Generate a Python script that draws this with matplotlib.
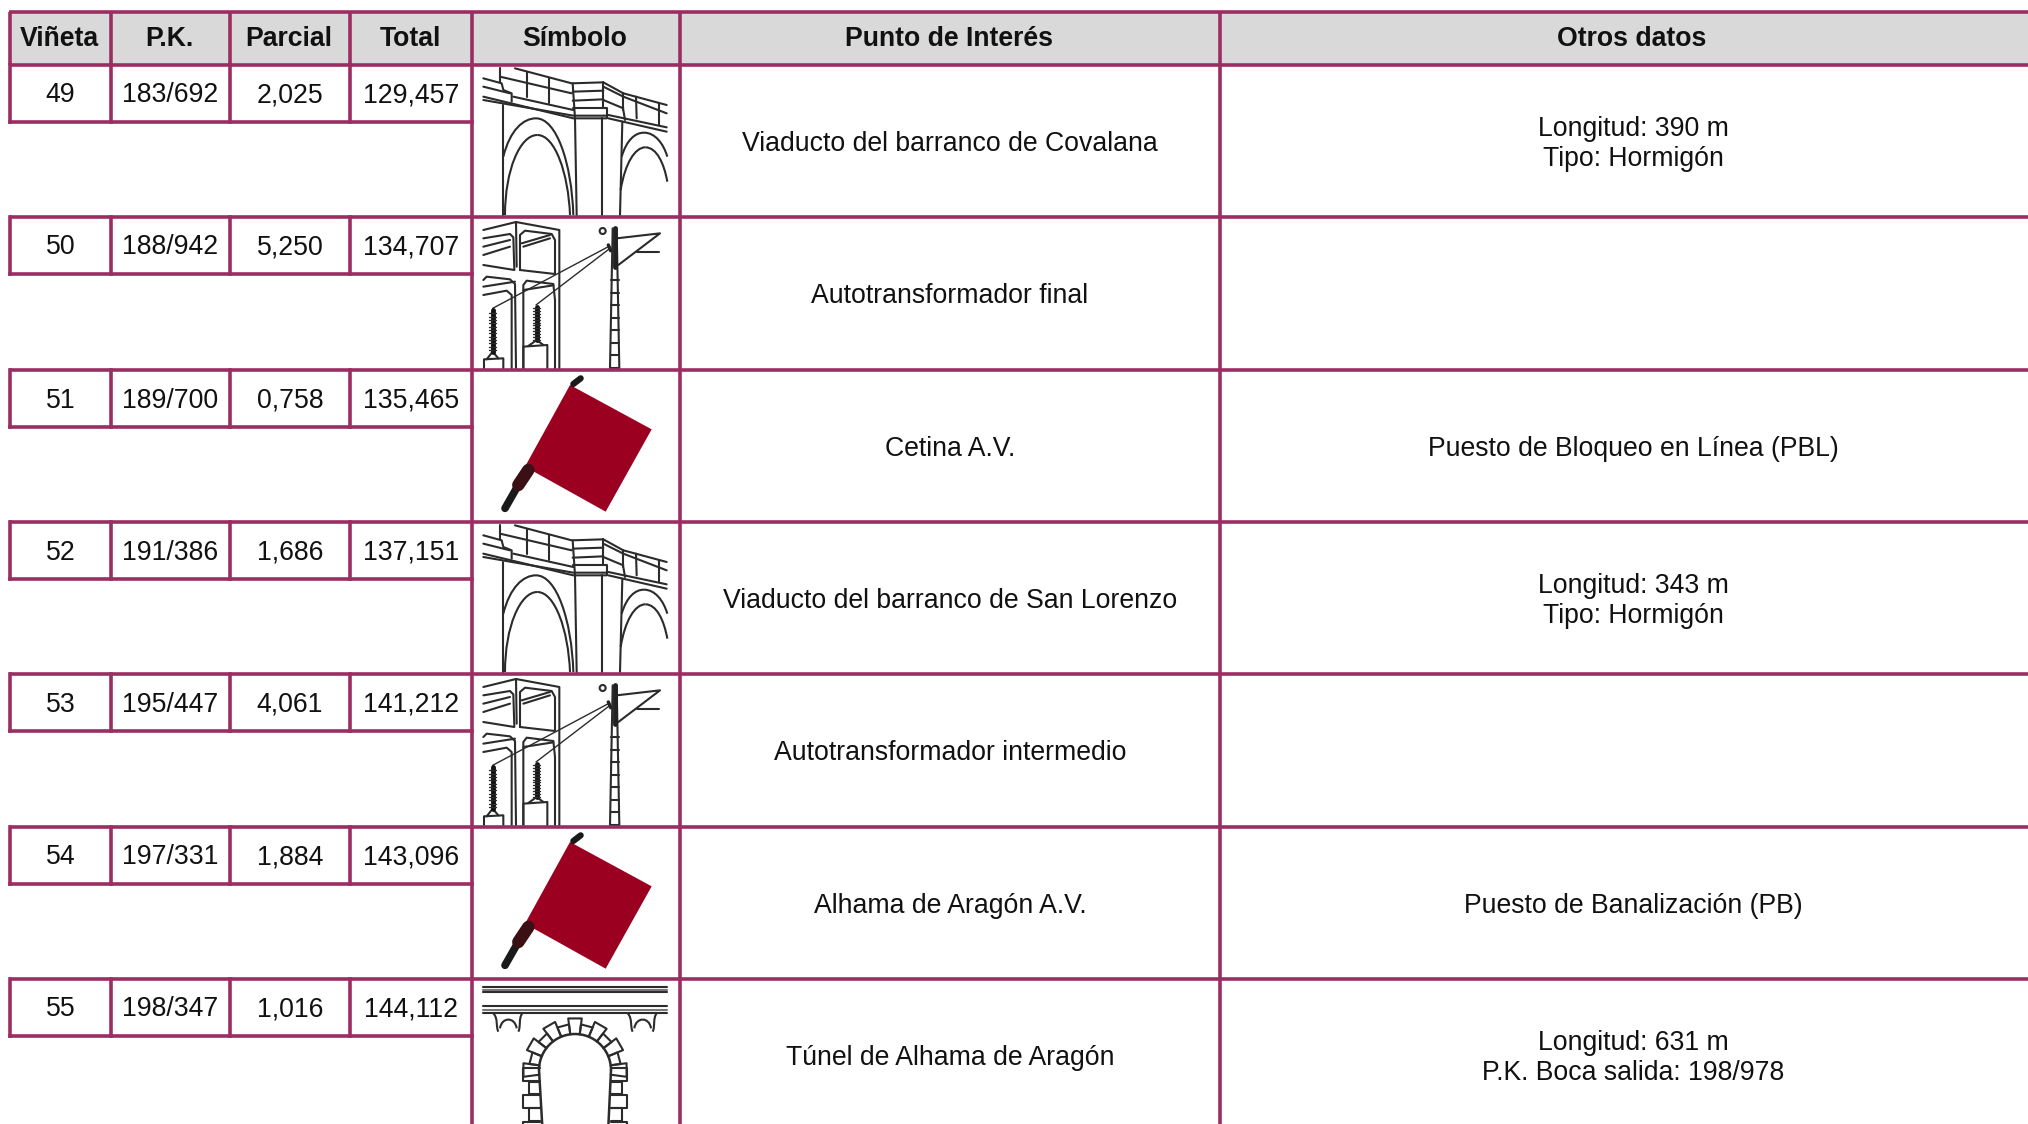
# Tabla de puntos de interes de la linea, dibujada en pixeles de la pagina
import numpy as np
import matplotlib
matplotlib.use('Agg')
import matplotlib.pyplot as plt
from matplotlib.path import Path
from matplotlib.patches import PathPatch, Polygon, Rectangle, Circle

plt.rcParams['font.family'] = ['Liberation Sans', 'DejaVu Sans']

headers = ['Viñeta', 'P.K.', 'Parcial', 'Total', 'Símbolo', 'Punto de Interés', 'Otros datos']
vineta = ['49', '50', '51', '52', '53', '54', '55']
pk = ['183/692', '188/942', '189/700', '191/386', '195/447', '197/331', '198/347']
parcial = ['2,025', '5,250', '0,758', '1,686', '4,061', '1,884', '1,016']
total = ['129,457', '134,707', '135,465', '137,151', '141,212', '143,096', '144,112']
simbolo = ['viaducto', 'auto', 'bandera', 'viaducto', 'auto', 'bandera', 'tunel']
punto = ['Viaducto del barranco de Covalana', 'Autotransformador final', 'Cetina A.V.',
         'Viaducto del barranco de San Lorenzo', 'Autotransformador intermedio',
         'Alhama de Aragón A.V.', 'Túnel de Alhama de Aragón']
otros = ['Longitud: 390 m\nTipo: Hormigón', '', 'Puesto de Bloqueo en Línea (PBL)',
         'Longitud: 343 m\nTipo: Hormigón', '', 'Puesto de Banalización (PB)',
         'Longitud: 631 m\nP.K. Boca salida: 198/978']

W, H = 2028, 1124
col_x = [10, 111, 230, 350, 472, 680, 1220, W + 18]
row_y = [65, 217, 370, 522, 674, 827, 979, H + 10]
head_top = 12
sub_h = 57
BORDER = '#9B2D62'
LW = 2.6
INK = '#2b2b2b'
FS = 19.2

fig = plt.figure(figsize=(W / 100, H / 100), dpi=100, facecolor='white')
ax = fig.add_axes([0, 0, 1, 1])
ax.set_xlim(0, W)
ax.set_ylim(H, 0)
ax.axis('off')


# los iconos se anotan en pixeles del recorte x3, con origen en (460, 50)
def stroke(pts, dy=0, lw=1.5, c=INK):
    pts = np.array(pts, dtype=float)
    ax.plot(460 + pts[:, 0] / 3, 50 + pts[:, 1] / 3 + dy, color=c, lw=lw,
            solid_capstyle='round', solid_joinstyle='round', zorder=2)


def curve(p0, p1, p2, p3, dy=0, lw=1.5):
    pts = np.array([p0, p1, p2, p3], dtype=float)
    pts = np.c_[460 + pts[:, 0] / 3, 50 + pts[:, 1] / 3 + dy]
    path = Path(pts, [Path.MOVETO, Path.CURVE4, Path.CURVE4, Path.CURVE4])
    ax.add_patch(PathPatch(path, fc='none', ec=INK, lw=lw, zorder=2))


def viaducto(top):
    dy = top - row_y[0]
    lines = [
        [(165, 55), (335, 100), (430, 97), (490, 130), (620, 165)],
        [(120, 80), (335, 130)],
        [(120, 55), (120, 95)],
        [(70, 85), (125, 100), (130, 120), (155, 130), (155, 155)],
        [(70, 110), (150, 130)],
        [(70, 140), (340, 205), (440, 205)],
        [(70, 150), (340, 197), (440, 197)],
        [(160, 140), (340, 180)],
        [(200, 65), (200, 140)], [(268, 85), (268, 160)],
        [(338, 100), (345, 205)],
        [(338, 125), (430, 122)], [(338, 152), (430, 148)], [(340, 175), (440, 175)],
        [(430, 97), (430, 175)], [(440, 178), (440, 205)],
        [(430, 110), (490, 140), (620, 190)],
        [(430, 150), (490, 175)], [(490, 180), (495, 210)],
        [(445, 195), (620, 232)], [(445, 205), (620, 245)],
        [(490, 130), (490, 180)], [(528, 140), (530, 205)], [(597, 160), (597, 225)],
        [(130, 165), (130, 495)], [(345, 205), (350, 495)],
        [(425, 205), (425, 495)], [(487, 215), (480, 495)],
    ]
    for ln in lines:
        stroke(ln, dy)
    curve((130, 320), (150, 240), (190, 205), (228, 205), dy)
    curve((228, 205), (290, 205), (335, 340), (340, 495), dy)
    curve((135, 495), (135, 360), (180, 255), (232, 255), dy)
    curve((232, 255), (285, 255), (325, 370), (330, 495), dy)
    curve((485, 320), (500, 270), (525, 248), (552, 248), dy)
    curve((552, 248), (585, 248), (610, 280), (622, 320), dy)
    curve((482, 420), (495, 340), (525, 292), (556, 292), dy)
    curve((556, 292), (590, 292), (612, 340), (622, 395), dy)


def auto(top):
    dy = top - row_y[1]
    lines = [
        [(70, 540), (168, 516), (298, 540), (298, 955)],
        [(70, 565), (150, 552), (160, 562), (163, 660), (70, 645)],
        [(70, 590), (150, 570)], [(70, 615), (150, 590)],
        [(168, 516), (170, 650)],
        [(180, 660), (180, 555), (195, 542), (275, 552), (285, 570), (285, 672), (180, 660)],
        [(185, 580), (270, 555)], [(190, 590), (270, 565)],
        [(70, 690), (80, 680), (150, 688), (165, 702), (168, 955)],
        [(70, 710), (165, 695)],
        [(70, 735), (140, 722), (155, 735), (155, 955)],
        [(190, 955), (190, 705), (200, 692), (280, 702), (285, 750), (285, 955)],
        [(190, 720), (280, 706)],
        [(72, 955), (72, 928), (130, 925), (130, 955)],
        [(190, 955), (190, 890), (262, 885), (262, 955)],
        [(80, 928), (98, 905), (115, 925)], [(205, 888), (230, 870), (250, 885)],
        [(450, 955), (458, 535)], [(478, 955), (470, 535)],
        [(470, 565), (600, 550), (475, 645)], [(530, 605), (597, 605)],
    ]
    for ln in lines:
        stroke(ln, dy)
    stroke([(98, 775), (445, 590)], dy, lw=1)
    stroke([(228, 765), (450, 595)], dy, lw=1)
    stroke([(98, 780), (98, 905)], dy, lw=3.5, c='#111111')
    stroke([(230, 770), (230, 870)], dy, lw=3.5, c='#111111')
    stroke([(465, 535), (465, 650)], dy, lw=3.5, c='#222222')
    stroke([(445, 585), (452, 602)], dy, lw=2.5, c='#222222')
    for r in range(8):
        yr = 690 + r * 37.5
        stroke([(452, yr), (476, yr)], dy)
    for r in range(12):
        stroke([(88, 790 + r * 10), (108, 790 + r * 10)], dy, lw=1)
        stroke([(220, 775 + r * 8.5), (240, 775 + r * 8.5)], dy, lw=1)
    ax.add_patch(Circle((460 + 428 / 3, 50 + 543 / 3 + dy), 3, fc='white', ec=INK, lw=1.5, zorder=2))


def bandera(top):
    # recorte con origen en (460, 360)
    dy2 = top - row_y[2] + 310
    tela = np.array([(330, 75), (575, 208), (437, 455), (195, 320)], dtype=float)
    ax.add_patch(Polygon(np.c_[460 + tela[:, 0] / 3, 50 + tela[:, 1] / 3 + dy2],
                         fc='#9B0020', ec='none', zorder=2))
    stroke([(135, 445), (175, 375)], dy2, lw=5.5, c='#1a1a1a')
    stroke([(175, 375), (205, 330)], dy2, lw=9, c='#3a1015')
    stroke([(340, 72), (362, 55)], dy2, lw=4.5, c='#1a1a1a')


def tunel(top):
    # recorte con origen en (460, 960)
    dy2 = top - row_y[6] + 910
    for y0 in (80, 97, 138, 158):
        stroke([(70, y0), (620, y0)], dy2, lw=1.5)
    for y0 in (90, 150):
        stroke([(70, y0), (620, y0)], dy2, lw=1.5, c='#777777')
    for x0 in (145, 548):
        curve((x0 - 45, 160), (x0 - 30, 175), (x0 - 38, 200), (x0 - 30, 215), dy2)
        curve((x0 + 42, 160), (x0 + 30, 175), (x0 + 38, 200), (x0 + 30, 215), dy2)
        curve((x0 - 25, 205), (x0 - 20, 170), (x0 + 20, 170), (x0 + 25, 205), dy2)
    cx, cy = 345, 330
    ang = np.radians(np.arange(0, 181, 180 / 12))
    for i, a in enumerate(ang):
        da = np.radians(7.5)
        r1 = 108
        r2 = 156 if i % 2 == 0 else 138
        px = [cx + r1 * np.cos(a - da), cx + r2 * np.cos(a - da),
              cx + r2 * np.cos(a + da), cx + r1 * np.cos(a + da)]
        py = [cy - r1 * np.sin(a - da), cy - r2 * np.sin(a - da),
              cy - r2 * np.sin(a + da), cy - r1 * np.sin(a + da)]
        stroke(list(zip(px, py)), dy2)
    th = np.radians(np.linspace(0, 180, 40))
    stroke(list(zip(cx + 108 * np.cos(th), cy - 108 * np.sin(th))), dy2, lw=1.8)
    stroke([(237, 330), (247, 500)], dy2, lw=1.8)
    stroke([(453, 330), (445, 500)], dy2, lw=1.8)
    for k in range(5):
        y0 = 345 + k * 40
        w = 50 if k % 2 == 0 else 34
        for sx, xb in ((-1, 240), (1, 452)):
            stroke([(xb, y0 - 20), (xb + sx * w, y0 - 20), (xb + sx * w, y0 + 18), (xb, y0 + 18)], dy2)


iconos = {'viaducto': viaducto, 'auto': auto, 'bandera': bandera, 'tunel': tunel}

# cabecera
ax.add_patch(Rectangle((col_x[0], head_top), W, row_y[0] - head_top, fc='#D9D9D9', ec='none', zorder=0))
for j, name in enumerate(headers):
    ax.text((col_x[j] + col_x[j + 1]) / 2 - 1, (head_top + row_y[0]) / 2 + 1, name,
            ha='center', va='center', fontsize=FS, fontweight='bold', color='#111111', zorder=3)

# filas
for i in range(len(vineta)):
    top, bot = row_y[i], row_y[i + 1]
    mid = (top + min(bot, top + 152)) / 2 + 3
    for j, vals in enumerate((vineta, pk, parcial, total)):
        ax.text((col_x[j] + col_x[j + 1]) / 2, top + sub_h / 2 + 2, vals[i], ha='center', va='center',
                fontsize=FS, color='#111111', zorder=3)
    ax.text((col_x[5] + col_x[6]) / 2, mid, punto[i], ha='center', va='center',
            fontsize=FS, color='#111111', zorder=3)
    ax.text((col_x[6] + col_x[7]) / 2, mid, otros[i], ha='center', va='center',
            fontsize=FS, color='#111111', zorder=3, linespacing=1.22)
    iconos[simbolo[i]](top)
    # rejilla de la sub-fila
    ax.plot([col_x[0], col_x[4]], [top + sub_h, top + sub_h], color=BORDER, lw=LW, zorder=4)
    for x in col_x[:4]:
        ax.plot([x, x], [top, top + sub_h], color=BORDER, lw=LW, zorder=4)

# lineas generales
for y in [head_top] + row_y[:-1]:
    ax.plot([col_x[0] - 1, W], [y, y], color=BORDER, lw=LW, zorder=4, solid_capstyle='butt')
for x in col_x[:7]:
    ax.plot([x, x], [head_top, row_y[0]], color=BORDER, lw=LW, zorder=4, solid_capstyle='butt')
for x in col_x[4:7]:
    ax.plot([x, x], [row_y[0], H], color=BORDER, lw=LW, zorder=4, solid_capstyle='butt')

fig.savefig('out.png', dpi=100, facecolor='white')
